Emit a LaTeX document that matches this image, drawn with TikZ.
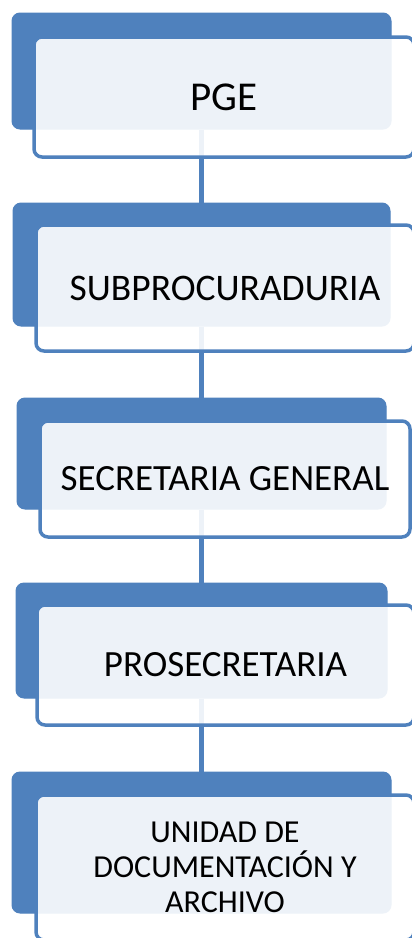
\documentclass[tikz,border=0pt]{standalone}
\usepackage{fontspec}
\setmainfont{Carlito}
\definecolor{orgblue}{HTML}{4F81BD}
\begin{document}
\begin{tikzpicture}[x=1pt,y=-1pt,
    back/.style={draw=orgblue,fill=orgblue,line width=1pt,rounded corners=8pt,inner sep=0pt},
    front/.style={draw=orgblue,line width=3.5pt,fill=white,fill opacity=0.9,text opacity=1,
      rounded corners=8pt,inner sep=0pt,align=center},
    link/.style={draw=orgblue,line width=4.5pt}]
    \useasboundingbox (0,0) rectangle (412,938);
    \node[back,minimum width=379pt,minimum height=116pt] (pgeback) at (201.5,71) {};
    \node[back,minimum width=377pt,minimum height=123pt] (subback) at (201.5,264.5) {};
    \node[back,minimum width=369pt,minimum height=111pt] (secback) at (201.5,453.5) {};
    \node[back,minimum width=371pt,minimum height=115pt] (proback) at (201.5,640.5) {};
    \node[back,minimum width=379pt,minimum height=141pt] (udaback) at (201.5,842.5) {};
    \draw[link] (pgeback.south) -- (subback.north);
    \draw[link] (subback.south) -- (secback.north);
    \draw[link] (secback.south) -- (proback.north);
    \draw[link] (proback.south) -- (udaback.north);
    \node[front,minimum width=380pt,minimum height=120pt,font=\fontsize{41}{48}\selectfont] (pge) at (224,97) {PGE};
    \node[front,minimum width=378pt,minimum height=126pt,font=\fontsize{37.5}{44}\selectfont] (sub) at (225,288) {SUBPROCURADURIA};
    \node[front,minimum width=370pt,minimum height=116pt,font=\fontsize{37}{44}\selectfont] (sec) at (225,479) {SECRETARIA GENERAL};
    \node[front,minimum width=377pt,minimum height=120pt,font=\fontsize{37}{44}\selectfont] (pro) at (225.5,665) {PROSECRETARIA};
    \node[front,minimum width=378pt,minimum height=145pt,font=\fontsize{32}{35}\selectfont] (uda) at (225,867.5)
      {UNIDAD DE\\DOCUMENTACIÓN Y\\ARCHIVO};
\end{tikzpicture}
\end{document}
